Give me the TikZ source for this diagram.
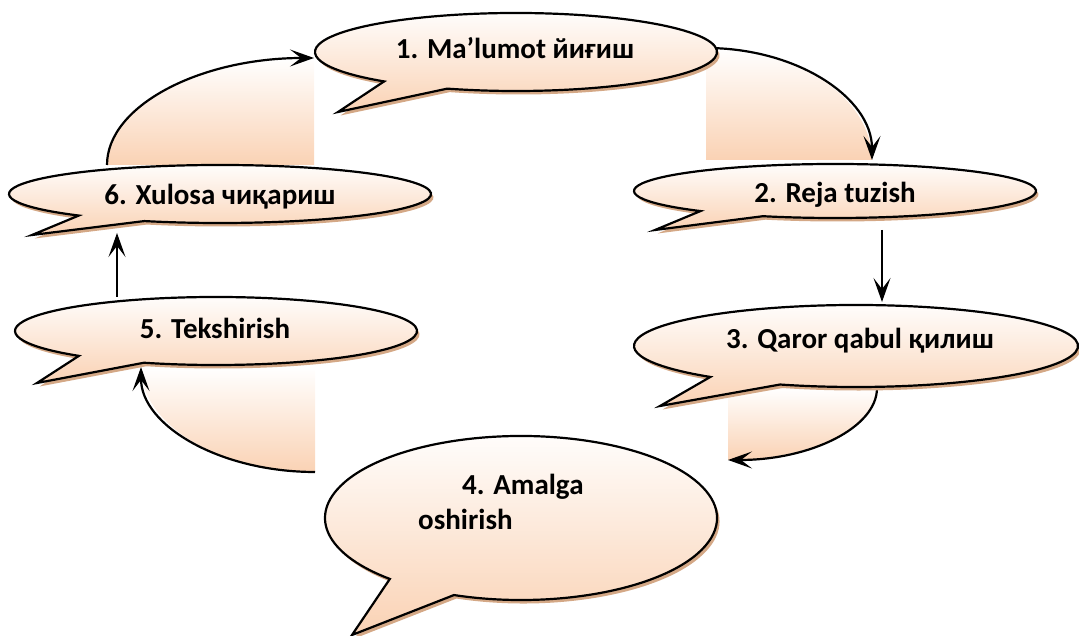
\documentclass[tikz,border=0pt]{standalone}
\usepackage{fontspec}
\setmainfont{Carlito}
\usetikzlibrary{arrows.meta}
\definecolor{peach}{RGB}{250,210,180}
\definecolor{shadowc}{RGB}{212,168,134}
\tikzset{
  bubbleline/.style={draw=black, line width=2.2pt, top color=white, bottom color=peach},
  bubbleshadow/.style={fill=shadowc, draw=none},
  arcfill/.style={top color=white, bottom color=peach, draw=none},
  conn/.style={line width=2.2pt, -{Stealth[length=24pt,width=17pt,inset=11pt]}},
  lbl/.style={font=\bfseries\fontsize{29}{35}\selectfont, inner sep=0pt, anchor=base},
  lblw/.style={lbl, anchor=base west},
}
% cx, cy, rx, ry, tA+360, tB, tipx, tipy
\newcommand{\bubble}[8]{%
  \fill[bubbleshadow, xshift=2.5pt, yshift=-3.5pt] (#7,#8) -- ([shift={(#6:#3pt and #4pt)}]#1,#2)
     arc[start angle=#6, end angle=#5, x radius=#3pt, y radius=#4pt] -- cycle;
  \shadedraw[bubbleline] (#7,#8) -- ([shift={(#6:#3pt and #4pt)}]#1,#2)
     arc[start angle=#6, end angle=#5, x radius=#3pt, y radius=#4pt] -- cycle;
}
\begin{document}
\begin{tikzpicture}[x=1pt, y=1pt]
\useasboundingbox (0,0) rectangle (1079,636);

% connector coordinates
\coordinate (c12c) at (706,476); \coordinate (c12s) at (706,588);
\coordinate (c61c) at (314,471); \coordinate (c61s) at (107,471);
\coordinate (c34c) at (728,248); \coordinate (c34s) at (877,248);
\coordinate (c45c) at (315,269); \coordinate (c45s) at (315,164);
\coordinate (s23a) at (882,406); \coordinate (s23b) at (882,334);
\coordinate (s56a) at (117,339); \coordinate (s56b) at (117,403);

% curved connectors with filled areas
\shade[arcfill] (c12c) -- (c12s) arc[start angle=90, end angle=0, x radius=166pt, y radius=112pt] -- cycle;
\draw[conn] (c12s) arc[start angle=90, end angle=0, x radius=166pt, y radius=112pt];

\shade[arcfill] (c61c) -- (c61s) arc[start angle=180, end angle=90, x radius=207pt, y radius=107pt] -- cycle;
\draw[conn] (c61s) arc[start angle=180, end angle=90, x radius=207pt, y radius=107pt];

\shade[arcfill] (c34c) -- (c34s) arc[start angle=0, end angle=-90, x radius=149pt, y radius=72pt] -- cycle;
\draw[conn] (c34s) arc[start angle=0, end angle=-90, x radius=149pt, y radius=72pt];

\shade[arcfill] (c45c) -- (c45s) arc[start angle=-90, end angle=-180, x radius=174pt, y radius=105pt] -- cycle;
\draw[conn] (c45s) arc[start angle=-90, end angle=-180, x radius=174pt, y radius=105pt];

% bubbles
\bubble{516}{584}{201}{39}{589}{250}{338}{524}
\bubble{835}{445}{201}{27}{588}{249}{655}{406}
\bubble{856}{290}{222}{41}{589}{250}{660}{230}
\bubble{521}{118}{196}{82}{588}{250}{352}{1}
\bubble{216}{305}{201}{34}{587}{249}{37}{253}
\bubble{220}{442}{211}{29}{588}{249}{32}{401}

% labels
\node[lbl] (t1) at (515,577) {1. Ma’lumot йиғиш};
\node[lbl] (t2) at (835,433) {2. Reja tuzish};
\node[lbl] (t3) at (860,287) {3. Qaror qabul қилиш};
\node[lblw] (t4a) at (462,141) {4. Amalga};
\node[lblw] (t4b) at (418,106) {oshirish};
\node[lbl] (t5) at (215,297) {5. Tekshirish};
\node[lbl] (t6) at (220,431) {6. Xulosa чиқариш};

% straight connectors
\draw[conn] (s23a) -- (s23b);
\draw[conn] (s56a) -- (s56b);
\end{tikzpicture}
\end{document}
